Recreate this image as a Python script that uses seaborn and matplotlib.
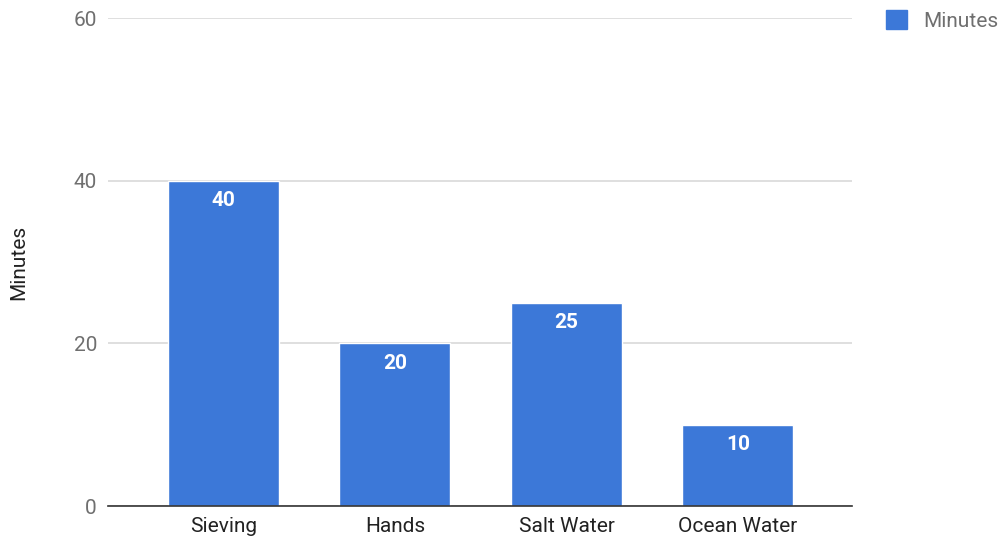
import matplotlib
matplotlib.use("Agg")
import matplotlib.pyplot as plt
from matplotlib.patches import Patch
import seaborn as sns
import pandas as pd

categories = ["Sieving", "Hands", "Salt Water", "Ocean Water"]
minutes = [40, 20, 25, 10]
series_name = "Minutes"
y_ticks = [0, 20, 40, 60]

BAR = "#3c78d8"
GRID = "#d9d9d9"
TICK = "#6f6f6f"

sns.set_theme(style="white")
plt.rcParams["font.family"] = ["Roboto", "DejaVu Sans"]

df = pd.DataFrame({"category": categories, "value": minutes})

fig = plt.figure(figsize=(10.01, 5.41), dpi=100)
ax = fig.add_axes([108 / 1001, 35 / 541, 744 / 1001, 488 / 541])

sns.barplot(data=df, x="category", y="value", color=BAR, saturation=1,
            width=0.647, ax=ax, zorder=3)

ax.set_xlim(-0.673, 3.665)
ax.set_ylim(0, 60)
ax.set_yticks(y_ticks)
ax.yaxis.grid(True, color=GRID, linewidth=1.2, zorder=0)
ax.set_axisbelow(True)
for s in ["top", "right", "left"]:
    ax.spines[s].set_visible(False)
ax.spines["bottom"].set_color("#333333")
ax.spines["bottom"].set_linewidth(1.2)
ax.spines["bottom"].set_zorder(4)
ax.tick_params(axis="both", length=0)
ax.tick_params(axis="y", labelsize=15, labelcolor=TICK, pad=8)
ax.tick_params(axis="x", labelsize=15, labelcolor="#222222", pad=8)
ax.set_xlabel("")
ax.set_ylabel(series_name, fontsize=15, color="#222222")
ax.yaxis.set_label_coords(-80 / 744, 0.5)

for i, v in enumerate(minutes):
    ax.annotate(str(v), xy=(i, v), xytext=(0, -14.5), textcoords="offset points",
                ha="center", va="center", color="white", fontsize=15,
                fontweight="bold", zorder=5)

handle = Patch(facecolor=BAR, edgecolor=BAR)
fig.legend([handle], [series_name], loc="upper left",
           bbox_to_anchor=(878 / 1001, 1 - 2 / 541), frameon=False,
           fontsize=15, labelcolor=TICK, handlelength=1.0, handleheight=1.0,
           handletextpad=0.75, borderaxespad=0)

fig.savefig("out.png", dpi=100)
